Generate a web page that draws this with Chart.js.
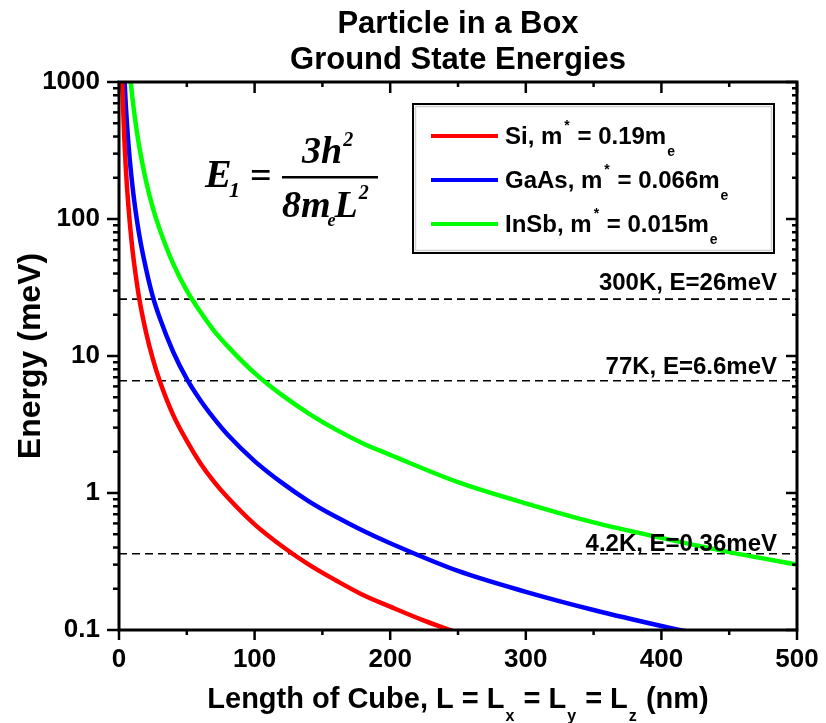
<!DOCTYPE html>
<html>
<head>
<meta charset="utf-8">
<script src="https://cdn.jsdelivr.net/npm/chart.js@4.4.1/dist/chart.umd.min.js"></script>
<style>
  html, body { margin: 0; padding: 0; background: #fff; }
  #wrap { width: 826px; height: 723px; }
</style>
</head>
<body>
<div id="wrap"><canvas id="myChart" width="826" height="723"></canvas></div>
<script>
// values (L in nm, E in meV)
const siL = [2.4, 3, 4, 5, 6, 8, 10, 12, 15, 20, 25, 30, 40, 50, 60, 70, 80, 100, 120, 140, 160, 180, 200, 225, 250];
const siE = [1030, 660, 371, 237, 165, 93, 59, 41, 26, 14.8, 9.5, 6.6, 3.7, 2.4, 1.65, 1.21, 0.93, 0.59, 0.41, 0.30, 0.23, 0.18, 0.148, 0.117, 0.095];

const gaasL = [4, 5, 6, 8, 10, 12, 15, 20, 25, 30, 40, 50, 60, 70, 80, 100, 120, 140, 160, 180, 200, 250, 300, 350, 400, 420];
const gaasE = [1070, 680, 475, 267, 171, 119, 76, 43, 27, 19, 10.7, 6.8, 4.75, 3.5, 2.67, 1.71, 1.19, 0.87, 0.67, 0.53, 0.43, 0.27, 0.19, 0.14, 0.107, 0.097];

const insbL = [8.5, 10, 12, 15, 20, 25, 30, 40, 50, 60, 70, 80, 100, 120, 140, 160, 180, 200, 250, 300, 350, 400, 450, 500];
const insbE = [1040, 750, 522, 334, 188, 120, 84, 47, 30, 21, 15.3, 11.8, 7.5, 5.2, 3.8, 2.9, 2.3, 1.9, 1.2, 0.84, 0.61, 0.47, 0.37, 0.30];

const thermalLabels = ['300K, E=26meV', '77K, E=6.6meV', '4.2K, E=0.36meV'];
const thermalE = [26, 6.6, 0.36];

const materials = ['Si', 'GaAs', 'InSb'];
const masses = ['0.19', '0.066', '0.015'];
const colors = ['#ff0000', '#0000ff', '#00ff00'];

const yTicks = [0.1, 1, 10, 100, 1000];
const xMax = 500;

const SANS = "'Liberation Sans', Arial, sans-serif";
const SERIF = "'Liberation Serif', 'Times New Roman', serif";

const toPts = (xs, ys) => xs.map((x, i) => ({ x: x, y: ys[i] }));

const curves = [toPts(siL, siE), toPts(gaasL, gaasE), toPts(insbL, insbE)].map((pts, i) => ({
  label: materials[i],
  data: pts,
  borderColor: colors[i],
  backgroundColor: colors[i],
  borderWidth: 4.5,
  pointRadius: 0,
  cubicInterpolationMode: 'monotone'
}));

const levels = thermalE.map((e, i) => ({
  label: thermalLabels[i],
  data: [{ x: 0, y: e }, { x: xMax, y: e }],
  borderColor: '#000',
  borderWidth: 1.6,
  borderDash: [8, 5],
  pointRadius: 0
}));

// offsets of the level labels above their dashed lines
const levelLabelGap = [9, 7, 3];

function line(ctx, x1, y1, x2, y2) {
  ctx.beginPath(); ctx.moveTo(x1, y1); ctx.lineTo(x2, y2); ctx.stroke();
}

const decor = {
  id: 'decor',
  afterDatasetsDraw(chart) {
    const ctx = chart.ctx;
    const a = chart.chartArea;
    const xs = chart.scales.x, ys = chart.scales.y;
    ctx.save();
    ctx.fillStyle = '#000';
    ctx.strokeStyle = '#000';

    // title
    ctx.textAlign = 'center';
    ctx.textBaseline = 'alphabetic';
    ctx.font = 'bold 31px ' + SANS;
    const cx = (a.left + a.right) / 2;
    ctx.fillText('Particle in a Box', cx, 33);
    ctx.fillText('Ground State Energies', cx, 69);

    // frame + ticks
    ctx.lineWidth = 3;
    ctx.strokeRect(a.left, a.top, a.right - a.left, a.bottom - a.top);
    ctx.lineWidth = 2.5;
    for (let v = 0; v <= xMax; v += 50) {
      const px = xs.getPixelForValue(v);
      const major = v % 100 === 0;
      line(ctx, px, a.bottom, px, a.bottom + (major ? 10 : 5));
      line(ctx, px, a.top, px, a.top + (major ? 11 : 5));
    }
    for (let d = 0; d < yTicks.length; d++) {
      const base = yTicks[d];
      const py = ys.getPixelForValue(base);
      line(ctx, a.left - 12, py, a.left, py);
      line(ctx, a.right - 11, py, a.right, py);
      if (d === yTicks.length - 1) break;
      for (let k = 2; k <= 9; k++) {
        const pm = ys.getPixelForValue(base * k);
        line(ctx, a.left - 6, pm, a.left, pm);
        line(ctx, a.right - 5, pm, a.right, pm);
      }
    }

    // level labels
    ctx.textAlign = 'right';
    ctx.font = 'bold 24px ' + SANS;
    thermalE.forEach((e, i) => {
      ctx.fillText(thermalLabels[i], a.right - 20, ys.getPixelForValue(e) - levelLabelGap[i]);
    });

    // legend box
    const lx = 413, ly = 104, lw = 361, lh = 149;
    ctx.fillStyle = '#fff';
    ctx.fillRect(lx, ly, lw, lh);
    ctx.strokeStyle = '#d0d0d0';
    ctx.lineWidth = 1.5;
    ctx.strokeRect(lx + 2.5, ly + 2.5, lw - 5, lh - 5);
    ctx.strokeStyle = '#000';
    ctx.lineWidth = 2;
    ctx.strokeRect(lx, ly, lw, lh);
    ctx.textAlign = 'left';
    materials.forEach((name, i) => {
      const rowY = 136 + i * 44;
      ctx.strokeStyle = colors[i];
      ctx.lineWidth = 4;
      line(ctx, 431, rowY, 498, rowY);
      ctx.fillStyle = '#000';
      let x = 505;
      const by = rowY + 8;
      ctx.font = 'bold 24px ' + SANS;
      let t = name + ', m';
      ctx.fillText(t, x, by); x += ctx.measureText(t).width + 2;
      ctx.font = 'bold 14px ' + SANS;
      ctx.fillText('*', x, by - 14); x += ctx.measureText('*').width + 1;
      ctx.font = 'bold 24px ' + SANS;
      t = ' = ' + masses[i] + 'm';
      ctx.fillText(t, x, by); x += ctx.measureText(t).width + 1;
      ctx.font = 'bold 14px ' + SANS;
      ctx.fillText('e', x, by + 12);
    });

    // formula E1 = 3h^2 / (8 m_e L^2)
    ctx.fillStyle = '#000';
    ctx.font = 'bold italic 40px ' + SERIF;
    ctx.fillText('E', 205, 187);
    ctx.font = 'bold italic 22px ' + SERIF;
    ctx.fillText('1', 229, 197);
    ctx.font = 'bold 38px ' + SERIF;
    ctx.fillText('=', 250, 188);
    ctx.fillRect(282, 176, 96, 2.5);
    ctx.font = 'bold italic 38px ' + SERIF;
    ctx.fillText('3h', 302, 163);
    let fx = 302 + ctx.measureText('3h').width + 1;
    ctx.font = 'bold italic 20px ' + SERIF;
    ctx.fillText('2', fx, 146);
    ctx.font = 'bold italic 38px ' + SERIF;
    ctx.fillText('8m', 282, 217);
    fx = 282 + ctx.measureText('8m').width;
    ctx.font = 'bold italic 18px ' + SERIF;
    ctx.fillText('e', fx - 3, 226);
    ctx.font = 'bold italic 38px ' + SERIF;
    ctx.fillText('L', fx + 4, 217);
    fx += 4 + ctx.measureText('L').width + 1;
    ctx.font = 'bold italic 20px ' + SERIF;
    ctx.fillText('2', fx, 199);

    // x axis title with subscripts
    const parts = [['Length of Cube, L = L', 0], ['x', 1], [' = L', 0], ['y', 1], [' = L', 0], ['z', 1], [' (nm)', 0]];
    const big = 'bold 29px ' + SANS, small = 'bold 16px ' + SANS;
    let total = 0;
    parts.forEach(p => { ctx.font = p[1] ? small : big; total += ctx.measureText(p[0]).width + (p[1] ? 2 : 0); });
    let tx = cx - total / 2;
    parts.forEach(p => {
      ctx.font = p[1] ? small : big;
      ctx.fillText(p[0], tx + (p[1] ? 1 : 0), p[1] ? 721 : 708);
      tx += ctx.measureText(p[0]).width + (p[1] ? 2 : 0);
    });
    ctx.restore();
  }
};

const config = {
  type: 'line',
  data: { datasets: curves.concat(levels) },
  options: {
    responsive: false,
    animation: false,
    layout: { padding: { left: 0, right: 29, top: 82, bottom: 0 } },
    scales: {
      x: {
        type: 'linear',
        min: 0,
        max: xMax,
        grid: { display: false, drawTicks: false },
        border: { display: false },
        ticks: { stepSize: 100, padding: 14, color: '#000', font: { family: SANS, size: 26, weight: 'bold' } },
        afterFit: s => { s.height = 93; s.paddingRight = 0; s.paddingLeft = 0; }
      },
      y: {
        type: 'logarithmic',
        min: 0.1,
        max: 1000,
        grid: { display: false, drawTicks: false },
        border: { display: false },
        afterBuildTicks: s => { s.ticks = yTicks.map(v => ({ value: v, major: true })); },
        ticks: {
          padding: 19,
          color: '#000',
          font: { family: SANS, size: 26, weight: 'bold' },
          callback: v => String(v)
        },
        title: {
          display: true,
          text: 'Energy (meV)',
          color: '#000',
          font: { family: SANS, size: 32, weight: 'bold' },
          padding: { top: 12, bottom: 0 }
        },
        afterFit: s => { s.width = 119; s.paddingTop = 0; s.paddingBottom = 0; }
      }
    },
    plugins: {
      legend: { display: false },
      tooltip: { enabled: false }
    }
  },
  plugins: [decor]
};

const myChart = new Chart(document.getElementById('myChart'), config);
</script>
</body>
</html>
